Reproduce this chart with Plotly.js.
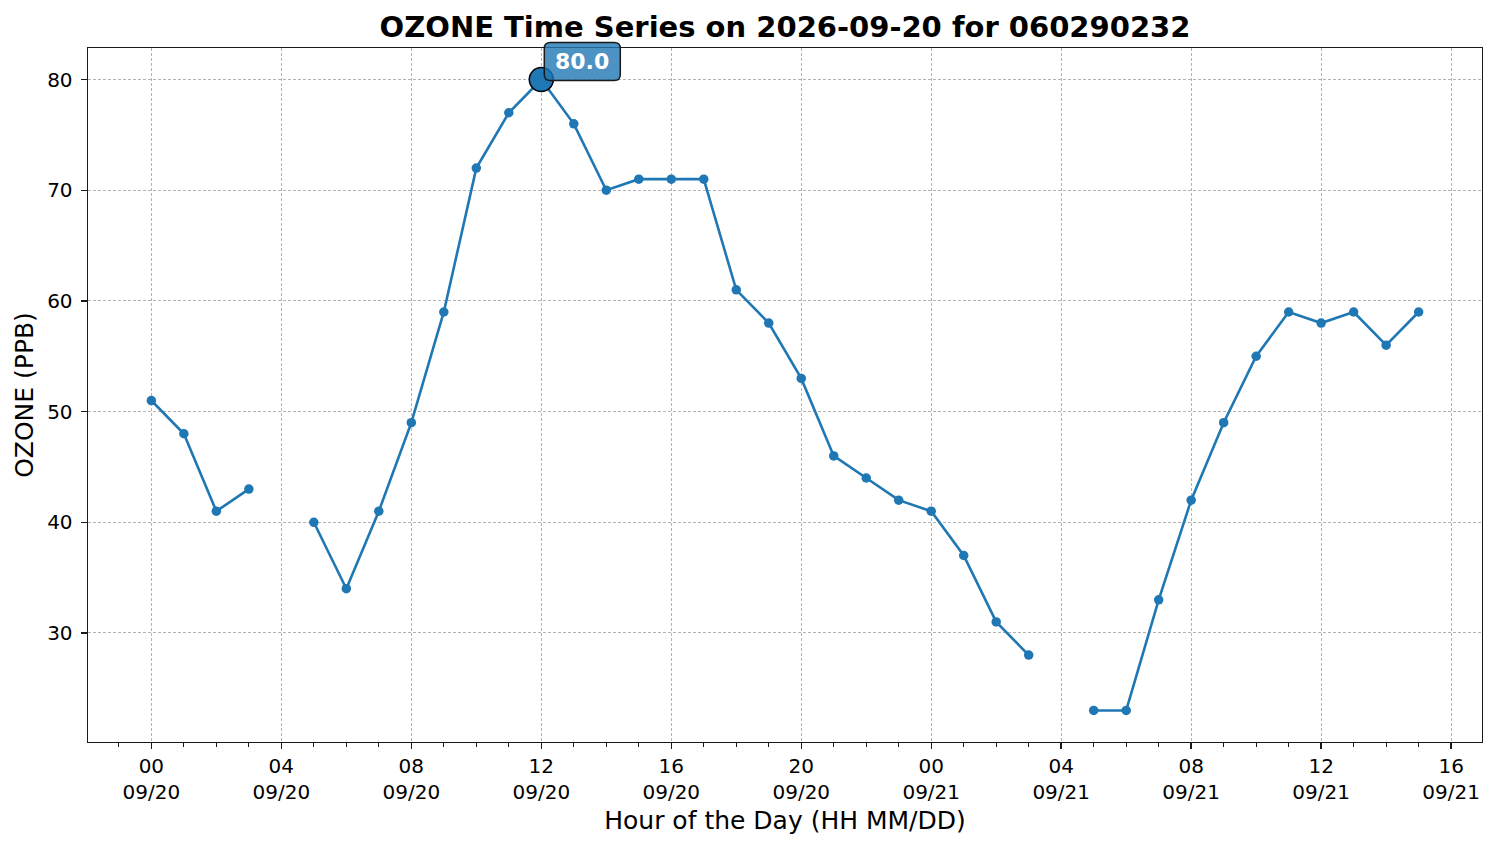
<!DOCTYPE html>
<html>
<head>
<meta charset="utf-8">
<script src="https://cdn.plot.ly/plotly-3.0.1.min.js"></script>
<style>
  html, body { margin: 0; padding: 0; background: white; }
  #chart { width: 1498px; height: 847px; }
</style>
</head>
<body>
<div id="chart"></div>
<script>
// hourly ozone readings, null where the hour is missing
var times = [
  '2026-09-20 00:00', '2026-09-20 01:00', '2026-09-20 02:00', '2026-09-20 03:00',
  '2026-09-20 04:00', '2026-09-20 05:00', '2026-09-20 06:00', '2026-09-20 07:00',
  '2026-09-20 08:00', '2026-09-20 09:00', '2026-09-20 10:00', '2026-09-20 11:00',
  '2026-09-20 12:00', '2026-09-20 13:00', '2026-09-20 14:00', '2026-09-20 15:00',
  '2026-09-20 16:00', '2026-09-20 17:00', '2026-09-20 18:00', '2026-09-20 19:00',
  '2026-09-20 20:00', '2026-09-20 21:00', '2026-09-20 22:00', '2026-09-20 23:00',
  '2026-09-21 00:00', '2026-09-21 01:00', '2026-09-21 02:00', '2026-09-21 03:00',
  '2026-09-21 04:00', '2026-09-21 05:00', '2026-09-21 06:00', '2026-09-21 07:00',
  '2026-09-21 08:00', '2026-09-21 09:00', '2026-09-21 10:00', '2026-09-21 11:00',
  '2026-09-21 12:00', '2026-09-21 13:00', '2026-09-21 14:00', '2026-09-21 15:00'
];
var ozone = [
  51, 48, 41, 43, null, 40, 34, 41,
  49, 59, 72, 77, 80, 76, 70, 71,
  71, 71, 61, 58, 53, 46, 44, 42,
  41, 37, 31, 28, null, 23, 23, 33,
  42, 49, 55, 59, 58, 59, 56, 59
];
var peakTime = '2026-09-20 12:00';
var peakValue = 80;

var blue = '#1f77b4';
var font = 'DejaVu Sans, sans-serif';
var yRange = [20.15, 82.85];
// where the peak sits inside the plot area, 0..1, for the label box
var peakFrac = (peakValue - yRange[0]) / (yRange[1] - yRange[0]);

var data = [
  {
    type: 'scatter',
    mode: 'lines+markers',
    x: times,
    y: ozone,
    connectgaps: false,
    line: {color: blue, width: 2.6},
    marker: {color: blue, size: 9.5},
    hoverinfo: 'x+y'
  },
  {
    type: 'scatter',
    mode: 'markers',
    x: [peakTime],
    y: [peakValue],
    marker: {color: blue, size: 24, line: {color: 'black', width: 1.5}},
    hoverinfo: 'x+y'
  }
];

var gridStyle = {
  showgrid: true,
  gridcolor: '#a0a0a0',
  griddash: '3px,2px',
  gridwidth: 0.8,
  zeroline: false,
  showline: true,
  linecolor: '#1a1a1a',
  linewidth: 1.4,
  mirror: true,
  ticks: 'outside',
  ticklen: 6,
  tickwidth: 1.4,
  tickcolor: '#1a1a1a',
  tickfont: {family: font, size: 20}
};

var layout = {
  width: 1498,
  height: 847,
  showlegend: false,
  paper_bgcolor: 'white',
  plot_bgcolor: 'white',
  margin: {l: 88, r: 16, t: 48, b: 105},
  font: {family: font, color: 'black', size: 20},
  title: {
    text: '<b>OZONE Time Series on 2026-09-20 for 060290232</b>',
    font: {family: font, size: 29, color: 'black'},
    xref: 'paper',
    x: 0.5,
    xanchor: 'center',
    y: 0.968,
    yanchor: 'middle'
  },
  xaxis: Object.assign({}, gridStyle, {
    type: 'date',
    range: ['2026-09-19 22:03', '2026-09-21 16:57'],
    dtick: 4 * 3600000,
    tick0: '2026-09-20 00:00',
    tickformat: '%H<br>%m/%d',
    ticklabelstandoff: 0,
    minor: {dtick: 3600000, ticks: 'outside', ticklen: 3.5, tickwidth: 1.1, tickcolor: '#1a1a1a', showgrid: false},
    title: {text: 'Hour of the Day (HH MM/DD)', font: {family: font, size: 25}, standoff: 8}
  }),
  yaxis: Object.assign({}, gridStyle, {
    range: yRange,
    dtick: 10,
    ticklabelstandoff: 4,
    title: {text: 'OZONE (PPB)', font: {family: font, size: 25}, standoff: 6}
  }),
  shapes: [{
    // rounded label box next to the peak point
    type: 'path',
    xref: 'x',
    yref: 'y domain',
    xsizemode: 'pixel',
    ysizemode: 'pixel',
    xanchor: peakTime,
    yanchor: peakFrac,
    path: 'M 9 -1 L 73 -1 Q 79 -1 79 5 L 79 31 Q 79 37 73 37 L 9 37 Q 3 37 3 31 L 3 5 Q 3 -1 9 -1 Z',
    fillcolor: 'rgba(31,119,180,0.8)',
    line: {color: '#1a1a1a', width: 1.5},
    layer: 'above'
  }],
  annotations: [{
    x: peakTime,
    y: peakValue,
    xref: 'x',
    yref: 'y',
    text: '<b>' + peakValue.toFixed(1) + '</b>',
    showarrow: false,
    xanchor: 'center',
    yanchor: 'middle',
    xshift: 41,
    yshift: 18,
    font: {family: font, size: 22, color: 'white'}
  }]
};

Plotly.newPlot('chart', data, layout, {displayModeBar: false, staticPlot: true});
</script>
</body>
</html>
